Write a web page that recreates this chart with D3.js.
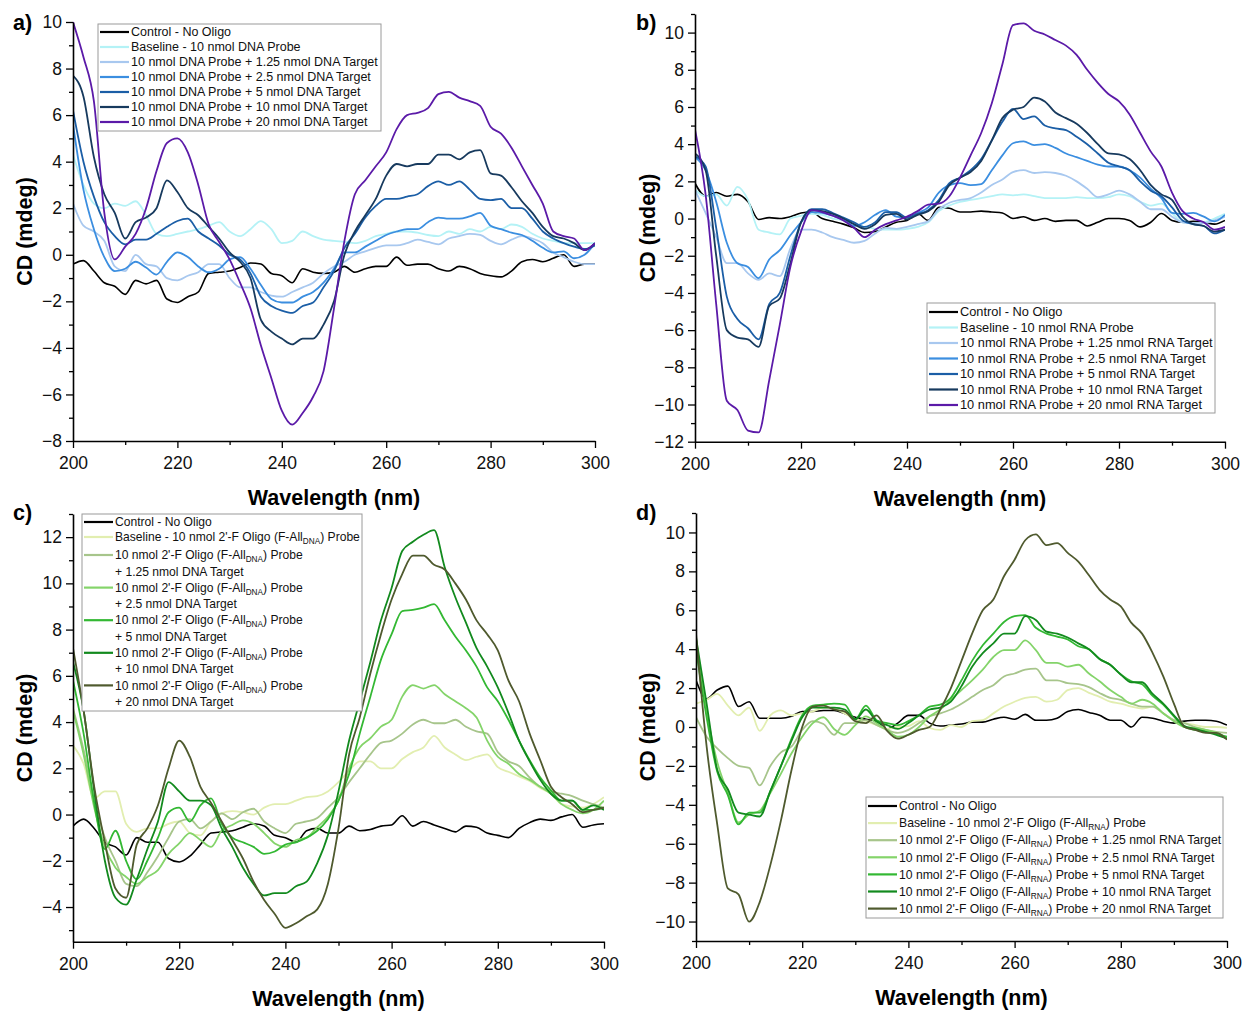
<!DOCTYPE html>
<html>
<head>
<meta charset="utf-8">
<script src="https://cdn.jsdelivr.net/npm/d3@7"></script>
<style>
	body { margin: 0; background: #fff; }
	svg { display: block; font-family: "Liberation Sans", Arial, sans-serif; }
</style>
</head>
<body>
<svg id="chart" width="1243" height="1011"></svg>
<script>
// x grid shared by every series (nm)
var wavelengths = [200,202,204,206,208,210,212,214,216,218,220,222,224,226,228,230,232,234,236,238,240,242,244,246,248,250,
	252,254,256,258,260,262,264,266,268,270,272,274,276,278,280,282,284,286,288,290,292,294,296,298,300];

var xTicks = [200, 220, 240, 260, 280, 300];
var xMinorTicks = [210, 230, 250, 270, 290];

// panel a) DNA probe + DNA target
var aControl = [-0.4,-0.25,-0.7,-1.2,-1.35,-1.7,-1.1,-1.25,-1.1,-1.9,-2.05,-1.8,-1.6,-0.8,-0.75,-0.7,-0.55,-0.35,-0.4,-0.8,-0.9,-1.2,-0.6,-0.75,-0.8,-0.75,
	-0.5,-0.75,-0.6,-0.5,-0.5,-0.1,-0.45,-0.4,-0.4,-0.6,-0.7,-0.5,-0.6,-0.8,-0.9,-0.95,-0.7,-0.3,-0.2,-0.3,-0.15,0.0,-0.5,-0.4,-0.4];
var aBaseline = [4.3,3.0,2.2,2.0,2.2,2.1,2.3,1.7,0.9,0.8,0.9,1.0,1.1,1.25,1.4,1.0,0.8,1.1,1.45,1.1,0.5,0.6,1.0,0.8,0.65,0.6,
	0.55,0.5,0.6,0.8,0.9,1.0,1.0,0.95,0.85,0.8,1.0,0.9,1.1,1.0,1.2,1.1,1.3,1.2,0.9,0.7,0.6,0.5,0.5,0.5,0.5];
var aTarget125 = [2.2,1.25,1.0,0.6,-0.5,-0.7,0.0,-0.4,-0.5,-1.0,-1.1,-0.9,-0.75,-0.4,-0.4,-1.0,-1.4,-1.4,-1.6,-1.75,-1.8,-1.6,-1.4,-1.2,-0.8,-0.5,
	-0.3,0.0,0.15,0.3,0.4,0.4,0.5,0.65,0.55,0.45,0.7,0.8,0.9,0.85,0.6,0.45,0.65,0.8,0.7,0.5,0.1,-0.1,-0.3,-0.4,-0.4];
var aTarget25 = [5.6,2.8,1.1,-0.1,-0.7,-0.6,-0.3,-0.55,-0.85,-0.3,0.1,-0.1,-0.5,-0.75,-0.6,-0.2,-0.1,-0.6,-1.3,-1.9,-2.05,-2.05,-1.8,-1.6,-1.2,-0.6,
	0.1,0.1,0.35,0.6,0.85,1.0,1.1,1.1,1.4,1.6,1.55,1.55,1.65,1.8,1.25,1.1,0.95,0.85,0.6,0.3,0.1,0.15,-0.15,0.0,0.5];
var aTarget5 = [6.2,4.0,2.5,1.4,0.8,0.45,0.65,0.65,0.9,1.2,1.45,1.55,1.0,0.7,0.4,0.0,-0.2,-0.8,-1.8,-2.2,-2.4,-2.5,-2.2,-2.05,-1.4,-0.7,
	0.3,0.9,1.6,2.1,2.4,2.4,2.5,2.6,2.95,3.15,3.0,3.15,2.8,2.4,2.35,2.4,2.0,2.0,1.55,1.0,0.7,0.5,0.35,0.25,0.4];
var aTarget10 = [7.7,6.8,4.2,2.6,1.8,0.7,1.4,1.6,2.0,3.2,2.7,2.0,1.7,1.2,0.7,0.1,-0.3,-1.0,-2.8,-3.3,-3.6,-3.85,-3.6,-3.6,-3.0,-2.0,
	0.0,1.0,1.7,2.4,3.4,3.9,3.8,3.9,3.9,4.3,4.3,4.1,4.4,4.5,3.5,3.4,2.9,2.3,1.8,1.2,0.8,0.7,0.5,0.2,0.5];
var aTarget20 = [10,8.5,6.6,1.8,-0.2,0.35,0.9,2.0,3.6,4.8,5.0,4.4,3.0,1.3,0.55,-0.2,-1.2,-2.3,-3.9,-5.3,-6.7,-7.3,-6.8,-6.1,-5.0,-2.3,
	0.6,2.6,3.2,3.8,4.4,5.4,6.0,6.1,6.3,6.9,7.0,6.75,6.6,6.4,5.5,5.2,4.6,3.8,3.0,2.2,1.0,0.8,0.7,0.2,0.5];

// panel b) RNA probe + RNA target
var bControl = [1.9,1.2,1.4,1.2,1.3,0.9,-0.05,0.05,0.0,0.1,0.3,0.35,0.0,-0.15,-0.3,-0.5,-0.75,-0.7,-0.45,-0.2,-0.1,0.27,-0.1,0.6,0.55,0.35,
	0.35,0.4,0.35,0.3,0.0,0.1,-0.1,0.0,-0.15,-0.1,-0.1,-0.4,-0.2,0.0,0.0,-0.1,-0.45,-0.2,0.27,-0.1,-0.2,-0.15,-0.2,-0.3,-0.1];
var bBaseline = [1.55,1.2,1.3,0.7,1.7,1.0,-0.6,-0.75,-0.85,0.0,0.15,0.25,0.2,0.0,-0.1,-0.3,-0.45,-0.55,-0.6,-0.6,-0.55,-0.45,-0.2,0.4,0.7,0.9,
	1.0,1.1,1.2,1.3,1.25,1.3,1.2,1.1,1.1,1.1,1.15,1.1,1.1,1.15,1.3,1.2,0.9,0.7,0.8,0.3,-0.2,-0.25,-0.2,0.0,0.25];
var bTarget125 = [1.55,0.3,-1.0,-2.4,-2.4,-2.95,-3.3,-2.95,-3.1,-1.6,-0.6,-0.6,-0.75,-1.0,-1.15,-1.3,-1.2,-0.8,-0.5,-0.55,-0.45,-0.3,-0.15,0.5,0.85,1.0,
	1.1,1.4,1.8,2.1,2.5,2.6,2.45,2.5,2.45,2.3,2.0,1.6,1.15,1.3,1.5,1.3,0.9,0.5,0.5,0.1,-0.2,-0.25,-0.25,-0.1,0.1];
var bTarget25 = [3.3,2.6,0.9,-1.3,-2.4,-2.6,-3.2,-2.2,-1.7,-0.9,-0.2,0.35,0.3,0.15,-0.05,-0.4,-0.2,0.2,0.45,0.1,0.05,0.3,0.6,1.4,1.8,1.9,
	1.8,1.85,2.6,3.4,4.05,4.15,3.95,4.0,3.8,3.5,3.3,3.1,2.9,2.8,2.8,2.6,2.2,1.6,1.1,0.3,0.25,0.3,0.1,-0.15,0.2];
var bTarget5 = [3.35,2.8,-0.5,-4.2,-5.4,-5.9,-6.5,-4.6,-4.0,-2.0,-0.2,0.5,0.5,0.3,0.05,-0.2,-0.45,-0.2,0.35,0.35,0.05,0.25,0.45,1.0,1.9,2.2,
	2.6,3.2,4.2,5.2,5.9,5.35,5.5,5.0,4.85,4.75,4.4,4.0,3.5,3.0,2.8,2.6,2.0,1.5,1.2,0.6,-0.1,-0.3,-0.4,-0.8,-0.6];
var bTarget10 = [3.5,2.6,-2.0,-6.0,-6.4,-6.5,-6.9,-4.7,-4.3,-2.4,-0.2,0.45,0.4,0.25,0.0,-0.3,-0.55,-0.3,0.2,0.25,-0.05,0.2,0.4,0.9,1.8,2.2,
	2.5,3.1,4.2,5.4,5.85,6.0,6.5,6.3,5.7,5.4,5.1,4.6,4.0,3.5,3.45,3.2,2.6,1.8,1.3,1.0,0.1,-0.3,-0.4,-0.7,-0.6];
var bTarget20 = [4.8,1.3,-4.6,-9.8,-10.3,-11.4,-11.5,-8.7,-5.7,-2.6,-0.7,0.45,0.35,0.15,-0.1,-0.5,-1.0,-0.6,-0.3,-0.1,0.1,0.4,0.75,0.8,1.2,2.2,
	3.4,4.6,6.2,8.3,10.4,10.5,10.1,9.9,9.6,9.3,8.8,8.0,7.3,6.7,6.3,5.6,4.6,3.6,2.8,1.4,0.4,0.0,-0.2,-0.6,-0.45];

// panel c) 2'-F probe + DNA target
var cControl = [-0.5,-0.2,-0.6,-1.2,-1.4,-1.75,-1.0,-1.2,-1.2,-1.9,-2.05,-1.8,-1.3,-0.8,-0.75,-0.7,-0.55,-0.4,-0.5,-0.9,-1.0,-1.2,-0.7,-0.6,-0.8,-0.8,
	-0.5,-0.7,-0.65,-0.5,-0.45,-0.05,-0.5,-0.3,-0.45,-0.6,-0.75,-0.5,-0.55,-0.8,-0.9,-1.0,-0.6,-0.35,-0.2,-0.25,-0.1,0.0,-0.55,-0.45,-0.4];
var cBaseline = [3.0,2.2,0.7,1.0,1.0,-0.4,-0.75,-0.6,-0.6,-0.4,-0.3,-0.8,-0.9,-0.3,0.05,0.15,0.1,0.0,0.3,0.45,0.45,0.6,0.75,0.8,1.0,1.4,
	1.9,2.3,2.3,2.0,2.0,2.4,2.7,2.9,3.4,2.9,2.6,2.35,2.5,2.6,2.05,1.85,1.65,1.45,1.15,0.9,0.45,0.35,0.3,0.45,0.75];
var cTarget125 = [4.6,2.8,0.6,-1.0,-2.0,-3.0,-3.1,-2.5,-1.8,-1.0,-0.3,-0.2,-0.6,-0.3,0.05,-0.2,0.1,0.25,-0.3,-0.6,-0.8,-0.4,-0.3,-0.15,0.3,0.75,
	1.4,2.0,2.6,3.1,3.2,3.5,3.9,4.1,3.95,3.95,4.1,3.8,3.6,3.5,2.7,2.3,2.1,1.6,1.2,1.0,0.9,0.8,0.6,0.45,0.3];
var cTarget25 = [4.5,2.6,0.3,-1.4,-2.3,-2.7,-3.0,-2.7,-2.4,-1.7,-1.25,-0.8,-1.1,-1.4,-0.7,-0.45,-0.25,-0.4,-0.8,-1.25,-1.4,-1.1,-1.0,-0.55,-0.1,0.6,
	2.0,2.9,3.3,3.8,4.1,5.1,5.6,5.45,5.6,5.2,4.9,4.6,4.2,3.2,2.5,2.2,1.75,1.5,1.2,0.9,0.45,0.2,0.05,0.2,0.6];
var cTarget5 = [5.8,3.5,0.5,-1.5,-0.7,-2.0,-2.8,-2.0,-1.0,0.1,0.3,-0.3,0.4,0.7,-0.4,-1.0,-1.2,-1.4,-1.7,-1.6,-1.3,-1.2,-1.0,-0.7,-0.2,0.6,
	1.75,3.5,5.1,6.7,7.8,8.8,8.85,8.95,9.1,8.4,7.7,7.1,6.4,5.5,4.9,4.1,3.2,2.35,1.6,1.05,0.6,0.6,0.2,0.2,0.3];
var cTarget10 = [6.6,4.5,1.0,-2.0,-3.6,-3.9,-2.8,-1.5,-0.3,1.4,1.0,0.6,0.6,0.4,-0.6,-1.4,-2.3,-3.0,-3.5,-3.4,-3.4,-3.1,-2.9,-2.1,-0.9,1.0,
	3.2,4.9,6.6,8.4,9.8,11.4,11.8,12.1,12.3,10.7,9.4,8.3,7.2,6.4,5.5,4.4,3.2,2.3,1.5,0.9,0.6,0.6,0.2,0.4,0.2];
var cTarget20 = [7.2,4.5,1.2,-1.2,-3.2,-3.6,-1.3,-0.6,0.4,2.0,3.2,2.5,1.2,0.5,-0.3,-1.1,-1.9,-2.9,-3.7,-4.3,-4.9,-4.7,-4.4,-4.1,-3.0,-0.6,
	2.6,4.2,6.1,7.8,9.3,10.4,11.2,11.2,10.8,10.6,10.0,9.3,8.4,7.8,7.1,5.8,4.9,3.5,2.35,1.2,0.75,0.45,0.1,0.2,0.3];

// panel d) 2'-F probe + RNA target
var dControl = [2.4,1.45,1.9,2.1,1.05,1.3,0.45,0.45,0.45,0.55,0.8,0.8,0.85,0.85,0.7,0.5,0.4,0.3,-0.1,0.2,0.6,0.6,0.2,0.05,0.1,0.15,
	0.25,0.25,0.4,0.5,0.4,0.65,0.35,0.35,0.45,0.8,0.9,0.75,0.6,0.35,0.35,0.0,0.5,0.45,0.3,0.2,0.3,0.35,0.35,0.3,0.1];
var dBaseline = [1.2,1.4,1.7,1.1,0.6,1.0,-0.2,0.6,0.85,0.6,0.7,0.8,1.0,0.95,0.7,0.4,0.3,0.1,-0.1,0.0,0.05,0.3,-0.05,-0.15,0.1,0.0,
	0.3,0.35,0.7,1.05,1.3,1.5,1.55,1.3,1.4,1.9,2.0,1.75,1.55,1.3,1.2,1.05,0.95,1.05,0.7,0.35,0.2,0.1,0.0,0.0,-0.05];
var dTarget125 = [0.5,-0.5,-1.1,-1.6,-2.0,-2.1,-3.0,-2.0,-1.3,-1.0,-0.15,0.3,0.15,-0.4,0.2,0.2,0.35,0.1,-0.15,-0.3,-0.15,0.2,0.55,0.7,0.9,1.2,
	1.55,1.9,2.15,2.6,2.75,2.95,3.0,2.4,2.4,2.25,2.2,2.05,1.75,1.5,1.4,1.2,1.05,1.05,0.7,0.35,0.2,0.0,-0.15,-0.25,-0.3];
var dTarget25 = [4.5,0.8,-1.8,-3.4,-4.9,-4.5,-4.3,-3.4,-2.4,-1.35,-0.5,0.2,0.5,-0.1,-0.4,0.1,0.55,0.2,-0.15,-0.5,-0.4,0.0,0.55,0.9,1.4,1.9,
	2.4,2.95,3.6,3.95,3.95,4.45,3.95,3.3,3.3,3.1,3.2,2.75,2.35,1.9,1.55,1.2,1.4,1.2,0.7,0.3,0.0,-0.05,-0.15,-0.3,-0.55];
var dTarget5 = [4.0,0.5,-2.3,-3.5,-5.0,-4.4,-4.4,-3.3,-2.0,-0.6,0.6,1.1,1.15,1.2,1.15,0.4,1.1,0.35,0.2,0.1,0.3,0.6,1.05,1.15,1.5,2.4,
	3.4,4.2,4.8,5.4,5.7,5.75,5.1,4.8,4.65,4.5,4.15,4.0,3.5,3.2,2.7,2.35,2.2,1.6,1.15,0.55,0.0,-0.15,-0.25,-0.35,-0.5];
var dTarget10 = [4.6,1.2,-2.2,-3.2,-4.4,-4.5,-4.6,-3.3,-2.0,-0.7,0.5,1.0,1.0,1.0,0.9,0.4,0.9,0.3,0.1,-0.1,0.2,0.6,0.9,1.0,1.3,2.1,
	3.1,3.8,4.3,4.8,4.8,5.7,5.5,4.9,4.8,4.6,4.3,4.0,3.5,3.2,2.7,2.3,2.3,1.7,1.2,0.6,0.05,-0.1,-0.25,-0.4,-0.6];
var dTarget20 = [4.8,-1.0,-5.0,-8.3,-8.6,-10.0,-9.0,-7.1,-4.8,-2.2,0.0,1.05,1.1,0.9,0.8,0.3,0.2,0.6,-0.2,-0.6,-0.4,-0.15,0.0,0.9,2.0,3.4,
	4.8,6.0,6.55,7.75,8.6,9.6,9.9,9.35,9.45,8.95,8.5,7.8,7.05,6.55,6.2,5.35,4.8,3.8,2.6,1.2,0.0,-0.15,-0.3,-0.3,-0.65];

// legend texts; "\n" breaks a line, _{..} is a subscript
var legendA = ['Control - No Oligo', 'Baseline - 10 nmol DNA Probe',
	'10 nmol DNA Probe + 1.25 nmol DNA Target', '10 nmol DNA Probe + 2.5 nmol DNA Target',
	'10 nmol DNA Probe + 5 nmol DNA Target', '10 nmol DNA Probe + 10 nmol DNA Target',
	'10 nmol DNA Probe + 20 nmol DNA Target'];
var legendB = ['Control - No Oligo', 'Baseline - 10 nmol RNA Probe',
	'10 nmol RNA Probe + 1.25 nmol RNA Target', '10 nmol RNA Probe + 2.5 nmol RNA Target',
	'10 nmol RNA Probe + 5 nmol RNA Target', '10 nmol RNA Probe + 10 nmol RNA Target',
	'10 nmol RNA Probe + 20 nmol RNA Target'];
var legendC = ['Control - No Oligo', "Baseline - 10 nmol 2'-F Oligo (F-All_{DNA}) Probe",
	"10 nmol 2'-F Oligo (F-All_{DNA}) Probe\n+ 1.25 nmol DNA Target",
	"10 nmol 2'-F Oligo (F-All_{DNA}) Probe\n+ 2.5 nmol DNA Target",
	"10 nmol 2'-F Oligo (F-All_{DNA}) Probe\n+ 5 nmol DNA Target",
	"10 nmol 2'-F Oligo (F-All_{DNA}) Probe\n+ 10 nmol DNA Target",
	"10 nmol 2'-F Oligo (F-All_{DNA}) Probe\n+ 20 nmol DNA Target"];
var legendD = ['Control - No Oligo', "Baseline - 10 nmol 2'-F Oligo (F-All_{RNA}) Probe",
	"10 nmol 2'-F Oligo (F-All_{RNA}) Probe + 1.25 nmol RNA Target",
	"10 nmol 2'-F Oligo (F-All_{RNA}) Probe + 2.5 nmol RNA Target",
	"10 nmol 2'-F Oligo (F-All_{RNA}) Probe + 5 nmol RNA Target",
	"10 nmol 2'-F Oligo (F-All_{RNA}) Probe + 10 nmol RNA Target",
	"10 nmol 2'-F Oligo (F-All_{RNA}) Probe + 20 nmol RNA Target"];

var blueColors = ['#000000', '#b4f2f6', '#a8c8ef', '#3b8ee0', '#1b5ea6', '#173a5e', '#5b1aa8'];
var greenColors = ['#000000', '#e2eeb0', '#a7c58b', '#84d46a', '#33b833', '#128a1e', '#4f5a2e'];

var svg = d3.select('#chart');

var panels = [
	{
		label: 'a)', labelPos: [13, 30],
		xRange: [73, 595], yRange: [441, 22], yDomain: [-8, 10],
		yTicks: [-8, -6, -4, -2, 0, 2, 4, 6, 8, 10], yMinor: [-7, -5, -3, -1, 1, 3, 5, 7, 9],
		series: [aControl, aBaseline, aTarget125, aTarget25, aTarget5, aTarget10, aTarget20],
		colors: blueColors, names: legendA,
		legend: {x: 98, y: 24, w: 283, h: 107, first: 32, step: 15, wrapStep: 0, font: 12.5}
	},
	{
		label: 'b)', labelPos: [636, 30],
		xRange: [695, 1225], yRange: [441.7, 14], yDomain: [-12, 11],
		yTicks: [-12, -10, -8, -6, -4, -2, 0, 2, 4, 6, 8, 10], yMinor: [-11, -9, -7, -5, -3, -1, 1, 3, 5, 7, 9, 11],
		series: [bControl, bBaseline, bTarget125, bTarget25, bTarget5, bTarget10, bTarget20],
		colors: blueColors, names: legendB,
		legend: {x: 927, y: 303, w: 288, h: 110, first: 312, step: 15.5, wrapStep: 0, font: 12.8}
	},
	{
		label: 'c)', labelPos: [13, 520],
		xRange: [73, 604], yRange: [941.7, 514], yDomain: [-5.5, 13],
		yTicks: [-4, -2, 0, 2, 4, 6, 8, 10, 12], yMinor: [-5, -3, -1, 1, 3, 5, 7, 9, 11, 13],
		series: [cControl, cBaseline, cTarget125, cTarget25, cTarget5, cTarget10, cTarget20],
		colors: greenColors, names: legendC,
		legend: {x: 82, y: 514, w: 280, h: 197, first: 522, step: 15, wrapStep: 16.3, font: 12.1}
	},
	{
		label: 'd)', labelPos: [636, 520],
		xRange: [696, 1227], yRange: [941, 513], yDomain: [-11, 11],
		yTicks: [-10, -8, -6, -4, -2, 0, 2, 4, 6, 8, 10], yMinor: [-11, -9, -7, -5, -3, -1, 1, 3, 5, 7, 9, 11],
		series: [dControl, dBaseline, dTarget125, dTarget25, dTarget5, dTarget10, dTarget20],
		colors: greenColors, names: legendD,
		legend: {x: 866, y: 797, w: 357, h: 121, first: 806, step: 17.1, wrapStep: 0, font: 12.2}
	}
];

// writes one legend line, turning _{..} into a small lowered tspan
function writeRich(textSel, str, fontSize) {
	var parts = str.split(/(_\{[^}]+\})/);
	var lowered = false;
	parts.forEach(function(part) {
		if (!part) return;
		var t = textSel.append('tspan');
		if (part.indexOf('_{') === 0) {
			t.text(part.slice(2, -1)).attr('font-size', fontSize * 0.68).attr('dy', 3);
			lowered = true;
		} else {
			t.text(part);
			if (lowered) {
				t.attr('dy', -3);
				lowered = false;
			}
		}
	});
}

function drawPanel(p, idx) {
	var x = d3.scaleLinear().domain([200, 300]).range(p.xRange);
	var y = d3.scaleLinear().domain(p.yDomain).range(p.yRange);
	var g = svg.append('g').attr('class', 'panel');

	var clipId = 'clip' + idx;
	svg.append('clipPath').attr('id', clipId).append('rect')
		.attr('x', p.xRange[0]).attr('y', p.yRange[1] - 2)
		.attr('width', p.xRange[1] - p.xRange[0]).attr('height', p.yRange[0] - p.yRange[1] + 2);

	var line = d3.line()
		.defined(function(d, i) { return d != null && wavelengths[i] != null; })
		.x(function(d, i) { return x(wavelengths[i]); })
		.y(function(d) { return y(d); })
		.curve(d3.curveMonotoneX);

	g.append('g').attr('clip-path', 'url(#' + clipId + ')')
		.selectAll('path')
		.data(p.series)
		.enter().append('path')
		.attr('d', line)
		.attr('fill', 'none')
		.attr('stroke', function(d, i) { return p.colors[i]; })
		.attr('stroke-width', function(d, i) { return i === 0 ? 1.6 : 1.8; })
		.attr('stroke-linejoin', 'round');

	// axes
	var xAxis = g.append('g').attr('transform', 'translate(0,' + p.yRange[0] + ')')
		.call(d3.axisBottom(x).tickValues(xTicks).tickSize(7).tickSizeOuter(0).tickPadding(9).tickFormat(d3.format('d')));
	g.append('g').attr('transform', 'translate(0,' + p.yRange[0] + ')')
		.call(d3.axisBottom(x).tickValues(xMinorTicks).tickSize(4).tickSizeOuter(0).tickFormat(''))
		.select('.domain').remove();

	var yAxis = g.append('g').attr('transform', 'translate(' + p.xRange[0] + ',0)')
		.call(d3.axisLeft(y).tickValues(p.yTicks).tickSize(7).tickSizeOuter(0).tickPadding(4).tickFormat(d3.format('d')));
	g.append('g').attr('transform', 'translate(' + p.xRange[0] + ',0)')
		.call(d3.axisLeft(y).tickValues(p.yMinor).tickSize(4).tickSizeOuter(0).tickFormat(''))
		.select('.domain').remove();

	g.selectAll('.domain').attr('stroke', '#000').attr('stroke-width', 1.6);
	g.selectAll('.tick line').attr('stroke', '#000').attr('stroke-width', 1.3);
	xAxis.selectAll('.tick text').attr('font-size', 17.5).attr('fill', '#111').attr('font-family', null);
	yAxis.selectAll('.tick text').attr('font-size', 17.5).attr('fill', '#111').attr('font-family', null);

	// titles
	var midX = (p.xRange[0] + p.xRange[1]) / 2;
	g.append('text')
		.attr('x', midX).attr('y', p.yRange[0] + 64)
		.attr('text-anchor', 'middle')
		.attr('font-size', 21.5).attr('font-weight', 'bold')
		.text('Wavelength (nm)');

	var midY = (p.yRange[0] + p.yRange[1]) / 2;
	g.append('text')
		.attr('transform', 'translate(' + (p.labelPos[0] + 19) + ',' + midY + ') rotate(-90)')
		.attr('text-anchor', 'middle')
		.attr('font-size', 21.5).attr('font-weight', 'bold')
		.text('CD (mdeg)');

	g.append('text')
		.attr('x', p.labelPos[0]).attr('y', p.labelPos[1])
		.attr('font-size', 21.5).attr('font-weight', 'bold')
		.text(p.label);

	// legend box
	var L = p.legend;
	var lg = g.append('g').attr('class', 'legend');
	lg.append('rect')
		.attr('x', L.x).attr('y', L.y).attr('width', L.w).attr('height', L.h)
		.attr('fill', '#fff').attr('stroke', '#9a9a9a').attr('stroke-width', 1);

	var rowY = L.first;
	p.names.forEach(function(name, i) {
		var lines = name.split('\n');
		lg.append('line')
			.attr('x1', L.x + 2).attr('x2', L.x + 31)
			.attr('y1', rowY).attr('y2', rowY)
			.attr('stroke', p.colors[i]).attr('stroke-width', 2.2);
		lines.forEach(function(ln, k) {
			var t = lg.append('text')
				.attr('x', L.x + 33).attr('y', rowY + k * L.wrapStep)
				.attr('dy', '0.35em')
				.attr('font-size', L.font).attr('fill', '#111');
			writeRich(t, ln, L.font);
		});
		if (lines.length > 1) {
			rowY += L.wrapStep * lines.length;
		} else if (L.wrapStep && i === 1) {
			rowY += 18;
		} else {
			rowY += L.step;
		}
	});
}

panels.forEach(drawPanel);
</script>
</body>
</html>
